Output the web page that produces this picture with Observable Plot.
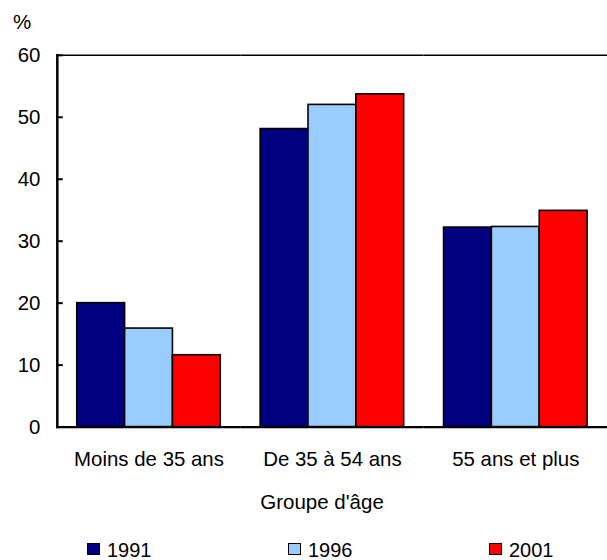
<!DOCTYPE html>
<html>
<head>
<meta charset="utf-8">
<script src="https://cdn.jsdelivr.net/npm/d3@7"></script>
<script src="https://cdn.jsdelivr.net/npm/@observablehq/plot@0.6"></script>
<style>
  html, body { margin: 0; padding: 0; background: #fff; overflow: hidden; }
  body { width: 607px; height: 560px; position: relative; font-family: "Liberation Sans", Arial, sans-serif; color: #000; }
  #chart { position: absolute; left: 0; top: 0; }
  .abs { position: absolute; font-size: 20.5px; line-height: 1; white-space: nowrap; }
  .leg { position: absolute; font-size: 20px; line-height: 14px; white-space: nowrap; }
  .sw { position: absolute; width: 11px; height: 10px; border: 1.5px solid #000; }
</style>
</head>
<body>
<div id="chart"></div>
<div class="abs" id="unit" style="left:13px; top:12px;">%</div>
<div class="abs" id="xlabel" style="left:322px; top:492px; transform:translateX(-50%);">Groupe d'âge</div>
<div id="legend"></div>
<script>
const groups = ["Moins de 35 ans", "De 35 à 54 ans", "55 ans et plus"];
const years = ["1991", "1996", "2001"];
const colors = ["#000080", "#99CCFF", "#FF0000"];
const values1991 = [20.0, 48.1, 32.2];
const values1996 = [15.9, 52.0, 32.3];
const values2001 = [11.6, 53.7, 34.9];
const yTicks = [0, 10, 20, 30, 40, 50, 60];

const series = [values1991, values1996, values2001];
const data = [];
groups.forEach((g, gi) => years.forEach((yr, yi) => data.push({group: g, year: yr, value: series[yi][gi]})));

const plot = Plot.plot({
  width: 609,
  height: 480,
  marginTop: 55,
  marginBottom: 52,
  marginLeft: 57,
  marginRight: 0,
  style: {fontFamily: "'Liberation Sans', Arial, sans-serif", fontSize: "20.5px", color: "#000", background: "#fff", overflow: "visible"},
  fx: {domain: groups, padding: 0, label: null},
  x: {domain: years, paddingInner: 0, paddingOuter: 0.4, axis: null},
  y: {domain: [0, 60], axis: null},
  color: {domain: years, range: colors},
  marks: [
    Plot.barY(data, {fx: "group", x: "year", y: "value", fill: "year", stroke: "#000", strokeWidth: 1.6}),
    Plot.ruleY([0], {stroke: "#000", strokeWidth: 2.2}),
    Plot.ruleY([60], {stroke: "#000", strokeWidth: 1.6}),
    Plot.frame({anchor: "left", facetAnchor: "left", stroke: "#000", strokeWidth: 2.5}),
    Plot.axisY({anchor: "left", ticks: yTicks, tickFormat: d => String(d), tickSize: -6, tickPadding: 23, strokeWidth: 2, fontSize: 20.5, label: null}),
    Plot.axisFx({anchor: "bottom", tickSize: 0, tickPadding: 24, fontSize: 20.5, label: null})
  ]
});
document.getElementById("chart").appendChild(plot);

const legend = document.getElementById("legend");
const legendLeft = [87, 288, 489];
years.forEach((yr, i) => {
  const sw = document.createElement("div");
  sw.className = "sw";
  sw.style.left = legendLeft[i] + "px";
  sw.style.top = "543px";
  sw.style.background = colors[i];
  legend.appendChild(sw);
  const t = document.createElement("div");
  t.className = "leg";
  t.style.left = (legendLeft[i] + 20) + "px";
  t.style.top = "543px";
  t.textContent = yr;
  legend.appendChild(t);
});
</script>
</body>
</html>
